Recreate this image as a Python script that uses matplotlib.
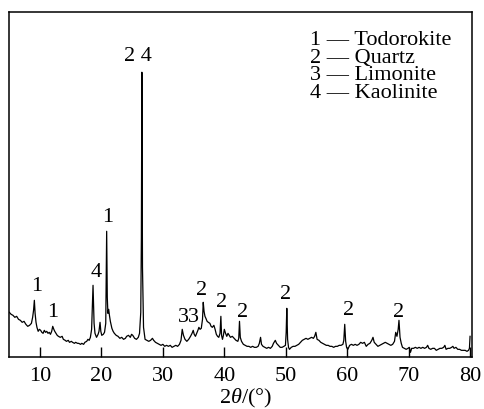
import matplotlib
matplotlib.use("Agg")
import matplotlib.pyplot as plt

plt.rcParams["font.family"] = ["Liberation Serif", "DejaVu Serif"]
plt.rcParams["mathtext.fontset"] = "custom"
plt.rcParams["mathtext.it"] = "Liberation Serif:italic"
plt.rcParams["mathtext.rm"] = "Liberation Serif"

# XRD pattern: diffraction angle 2θ (°) and intensity (a.u.)
two_theta = [
    5.0, 5.3, 5.6, 5.9, 6.2, 6.5, 6.8, 7.1, 7.4, 7.7, 8.0, 8.3, 8.6, 8.8, 8.95, 9.08, 9.2, 9.35,
    9.5, 9.7, 9.9, 10.1, 10.3, 10.5, 10.7, 10.9, 11.1, 11.3, 11.5, 11.7, 11.9, 12.07, 12.25, 12.4,
    12.6, 12.8, 13.0, 13.3, 13.6, 13.8, 14.1, 14.3, 14.6, 14.8, 15.1, 15.3, 15.6, 15.8, 16.1, 16.3,
    16.6, 16.8, 17.1, 17.3, 17.6, 17.8, 18.0, 18.2, 18.4, 18.63, 18.8, 18.95, 19.2, 19.45, 19.6,
    19.77, 19.9, 20.05, 20.3, 20.5, 20.7, 20.85, 20.95, 21.05, 21.18, 21.3, 21.45, 21.7, 21.9,
    22.1, 22.4, 22.7, 23.0, 23.3, 23.6, 23.9, 24.1, 24.4, 24.7, 24.9, 25.1, 25.4, 25.7, 26.0, 26.2,
    26.4, 26.5, 26.58, 26.68, 26.85, 27.1, 27.4, 27.7, 28.0, 28.3, 28.5, 28.8, 29.1, 29.4, 29.7,
    30.0, 30.3, 30.6, 30.9, 31.2, 31.5, 31.8, 32.1, 32.4, 32.7, 32.95, 33.15, 33.35, 33.6, 33.9,
    34.2, 34.5, 34.75, 34.94, 35.1, 35.3, 35.5, 35.7, 35.86, 36.05, 36.25, 36.45, 36.57, 36.7,
    36.85, 37.0, 37.2, 37.4, 37.65, 37.85, 38.05, 38.3, 38.5, 38.7, 38.9, 39.1, 39.3, 39.44, 39.55,
    39.7, 39.85, 40.0, 40.2, 40.4, 40.6, 40.8, 41.0, 41.3, 41.6, 41.9, 42.2, 42.35, 42.47, 42.6,
    42.8, 43.1, 43.4, 43.7, 44.0, 44.3, 44.6, 44.9, 45.2, 45.5, 45.7, 45.9, 46.05, 46.3, 46.6,
    46.9, 47.2, 47.5, 47.8, 48.0, 48.3, 48.5, 48.8, 49.1, 49.4, 49.7, 49.95, 50.07, 50.17, 50.3,
    50.45, 50.6, 50.9, 51.2, 51.5, 51.8, 52.1, 52.4, 52.7, 53.0, 53.3, 53.6, 53.9, 54.2, 54.5, 54.7,
    54.9, 55.1, 55.4, 55.7, 56.0, 56.3, 56.6, 56.9, 57.2, 57.5, 57.8, 58.1, 58.4, 58.7, 59.0, 59.3,
    59.45, 59.6, 59.75, 59.9, 60.1, 60.4, 60.7, 61.0, 61.3, 61.6, 61.9, 62.2, 62.5, 62.8, 63.1,
    63.4, 63.7, 64.0, 64.2, 64.4, 64.7, 65.0, 65.3, 65.6, 65.9, 66.2, 66.5, 66.8, 67.1, 67.4, 67.7,
    67.9, 68.1, 68.3, 68.43, 68.6, 68.8, 69.0, 69.3, 69.6, 69.9, 70.1, 70.3, 70.5, 70.8, 71.1,
    71.4, 71.7, 72.0, 72.3, 72.6, 72.9, 73.1, 73.3, 73.6, 73.9, 74.2, 74.5, 74.8, 75.1, 75.4,
    75.7, 75.9, 76.1, 76.4, 76.7, 77.0, 77.2, 77.4, 77.7, 78.0, 78.3, 78.6, 78.9, 79.2, 79.5,
    79.75, 79.9, 80.0,
]
intensity = [
    45, 43, 42, 40, 41, 38, 37, 35, 36, 33, 31, 32, 34, 40, 47, 57, 44, 35,
    30, 26, 28, 27, 25, 24, 27, 25, 26, 24, 25, 23, 26, 31, 28, 26,
    24, 22, 21, 20, 21, 18, 17, 16, 17, 15, 16, 15, 14, 15, 14, 14,
    13, 14, 13, 15, 16, 18, 17, 20, 28, 72, 34, 24, 20, 23, 26,
    35, 26, 22, 23, 25, 34, 126, 60, 44, 48, 42, 36, 29, 26,
    24, 22, 21, 19, 20, 18, 19, 21, 22, 20, 23, 22, 19, 18, 20, 24,
    45, 120, 285, 90, 30, 18, 17, 16, 17, 19, 17, 15, 14, 13, 12,
    13, 11, 12, 11, 12, 10, 11, 12, 11, 13, 17, 28, 22, 18, 16,
    18, 21, 24, 27, 23, 21, 24, 27, 30, 28, 29, 38, 55, 46,
    41, 39, 36, 35, 34, 31, 30, 32, 28, 23, 21, 20, 24, 41, 22,
    18, 22, 28, 24, 21, 24, 22, 20, 21, 19, 17, 16, 19, 36, 20,
    16, 13, 12, 11, 11, 10, 11, 10, 10, 11, 14, 20, 13, 11, 10,
    9, 10, 9, 11, 14, 17, 14, 12, 10, 10, 11, 12, 25, 49, 18,
    10, 8, 10, 11, 11, 12, 13, 15, 17, 18, 19, 18, 19, 20, 19, 21,
    25, 18, 17, 15, 14, 13, 12, 12, 11, 11, 10, 11, 11, 12, 12, 13,
    17, 33, 16, 10, 8, 12, 13, 12, 13, 12, 13, 15, 14, 15, 11,
    13, 14, 17, 20, 15, 13, 11, 12, 13, 14, 15, 14, 13, 12, 13, 16,
    25, 21, 28, 37, 20, 14, 10, 9, 8, 9, 10, 5, 9, 9, 10,
    9, 10, 9, 10, 9, 10, 12, 9, 8, 9, 9, 7, 8, 9, 9,
    10, 12, 8, 9, 9, 10, 11, 9, 10, 8, 8, 7, 7, 7, 6,
    7, 9, 21,
]

# Phase markers above the diffraction peaks
marker_text = ["1", "1", "4", "1", "2 4", "33", "2", "2", "2", "2", "2", "2"]
marker_x = [9.46, 12.1, 19.07, 21.0, 25.96, 34.2, 36.3, 39.5, 43.0, 50.0, 60.16, 68.4]
marker_y = [72, 45.5, 86, 141, 302, 40.5, 68, 55.5, 45.5, 64, 48, 46.3]

# Phase key
phase_labels = ["1 \u2014 Todorokite", "2 \u2014 Quartz", "3 \u2014 Limonite", "4 \u2014 Kaolinite"]

x_ticks = [10, 20, 30, 40, 50, 60, 70, 80]

fig = plt.figure(figsize=(4.84, 4.10), dpi=100)
ax = fig.add_axes([0.0192, 0.126, 0.9558, 0.843])

ax.plot(two_theta, intensity, color="black", lw=0.9)

ax.set_xlim(5, 80.3)
ax.set_ylim(0, 345.5)
ax.set_xticks(x_ticks)
ax.set_xticklabels([str(t) for t in x_ticks])
ax.set_yticks([])
ax.tick_params(axis="x", direction="in", length=7, width=1, labelsize=16, pad=6)
for s in ax.spines.values():
    s.set_linewidth(1.1)

for t, x, y in zip(marker_text, marker_x, marker_y):
    ax.text(x, y, t, fontsize=16, ha="center", va="center")

for i, lab in enumerate(phase_labels):
    fig.text(310 / 484, 1 - (40.5 + 17.5 * i) / 410, lab, fontsize=16,
             ha="left", va="center")

fig.text(246 / 484, 1 - 398 / 410, r"2$\it{\theta}$/(°)", fontsize=16,
         ha="center", va="center")

fig.savefig("out.png", dpi=100)
